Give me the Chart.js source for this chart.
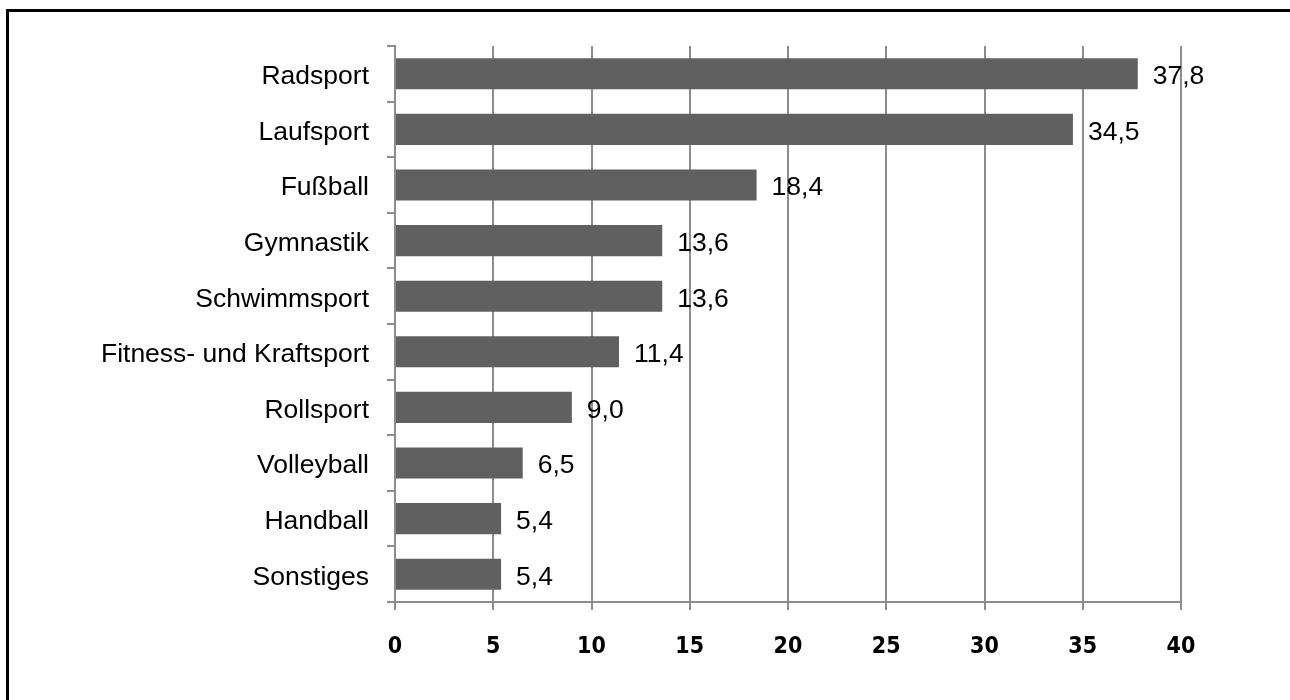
<!DOCTYPE html>
<html>
<head>
<meta charset="utf-8">
<script src="https://cdn.jsdelivr.net/npm/chart.js@4"></script>
<style>
    html, body { margin: 0; padding: 0; background: #fff; }
    #wrap { position: relative; width: 1290px; height: 700px; overflow: hidden; }
    #frame {
        position: absolute; left: 6px; top: 9px; width: 1400px; height: 800px;
        border-left: 3px solid #000; border-top: 3px solid #000; pointer-events: none;
    }
    canvas { position: absolute; left: 0; top: 0; }
</style>
</head>
<body>
<div id="wrap">
    <canvas id="sportChart" width="1290" height="700"></canvas>
    <div id="frame"></div>
</div>
<script>
const sports = ["Radsport", "Laufsport", "Fußball", "Gymnastik", "Schwimmsport",
    "Fitness- und Kraftsport", "Rollsport", "Volleyball", "Handball", "Sonstiges"];
const shares = [37.8, 34.5, 18.4, 13.6, 13.6, 11.4, 9.0, 6.5, 5.4, 5.4];
const axisTicks = [0, 5, 10, 15, 20, 25, 30, 35, 40];

const gridGray = "#8c8c8c";
const labelFont = "Liberation Sans, Arial, sans-serif";

// draws the value next to each bar, with a decimal comma
const valueLabels = {
    id: "valueLabels",
    afterDatasetsDraw(chart) {
        let ctx = chart.ctx;
        let meta = chart.getDatasetMeta(0);
        ctx.save();
        ctx.font = "26.5px " + labelFont;
        ctx.fillStyle = "#000";
        ctx.textAlign = "left";
        ctx.textBaseline = "middle";
        meta.data.forEach(function (bar, i) {
            let txt = shares[i].toFixed(1).replace(".", ",");
            ctx.fillText(txt, bar.x + 15, bar.y + 3);
        });
        ctx.restore();
    }
};

let ctx = document.getElementById("sportChart").getContext("2d");
new Chart(ctx, {
    type: "bar",
    data: {
        labels: sports,
        datasets: [{
            data: shares,
            backgroundColor: "#606060",
            borderWidth: 0,
            categoryPercentage: 1,
            barPercentage: 0.56
        }]
    },
    options: {
        indexAxis: "y",
        responsive: false,
        animation: false,
        devicePixelRatio: 1,
        layout: { padding: { left: 0, top: 46, right: 109, bottom: 0 } },
        plugins: {
            legend: { display: false },
            tooltip: { enabled: false }
        },
        scales: {
            x: {
                min: 0,
                max: 40,
                afterFit: function (scale) { scale.height = 98; },
                afterBuildTicks: function (scale) {
                    scale.ticks = axisTicks.map(v => ({ value: v }));
                },
                grid: { color: gridGray, lineWidth: 2, tickLength: 8 },
                border: { display: true, color: gridGray, width: 2 },
                ticks: {
                    color: "#000",
                    padding: 23,
                    font: { family: "DejaVu Sans Condensed, DejaVu Sans, sans-serif", size: 23, weight: "bold" }
                }
            },
            y: {
                afterFit: function (scale) { scale.width = 395; },
                grid: { color: gridGray, lineWidth: 2, tickLength: 8, drawOnChartArea: false, offset: true },
                border: { display: true, color: gridGray, width: 2 },
                ticks: {
                    color: "#000",
                    padding: 18,
                    labelOffset: 3,
                    font: { family: labelFont, size: 26.5 }
                }
            }
        }
    },
    plugins: [valueLabels]
});
</script>
</body>
</html>
